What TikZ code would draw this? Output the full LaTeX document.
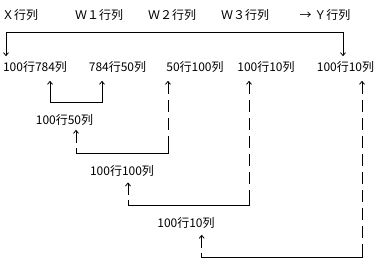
\documentclass[tikz,border=0pt]{standalone}
\usepackage{fontspec}
\newfontfamily\cjkfont{Noto Sans CJK SC}
\usetikzlibrary{arrows.meta,calc}
\begin{document}
\begin{tikzpicture}[x=1pt,y=-1pt,
  lbl/.style={font=\cjkfont\fontsize{12}{12}\selectfont, inner sep=0pt, anchor=center},
  tipup/.style={{Straight Barb[length=3pt,width=5pt]}-{Straight Barb[length=3pt,width=5pt]}},
  conn/.style={line width=0.8pt, tipup},
  hline/.style={line width=0.8pt},
  vline/.style={line width=0.8pt, dash pattern=on 12pt off 6pt, {Straight Barb[length=3pt,width=5pt]}-}]
\useasboundingbox[fill=white] (0,0) rectangle (382,266);
% header row
\node[lbl] (t1) at (20,15) {Ｘ行列};
\node[lbl] (t2) at (99,15) {Ｗ１行列};
\node[lbl] (t3) at (172,15) {Ｗ２行列};
\node[lbl] (t4) at (245,15) {Ｗ３行列};
\node[lbl] (t5) at (325,15) {→ Ｙ行列};
% sizes row
\node[lbl] (n1) at (35,67) {100行784列};
\node[lbl] (n2) at (117.5,67) {784行50列};
\node[lbl] (n3) at (195,67) {50行100列};
\node[lbl] (n4) at (266,67) {100行10列};
\node[lbl] (n5) at (345.5,67) {100行10列};
% results
\node[lbl] (m1) at (64.5,120) {100行50列};
\node[lbl] (m2) at (122,170.7) {100行100列};
\node[lbl] (m3) at (186,223) {100行10列};
% top bracket
\coordinate (a1) at (6,32.7);
\coordinate (a2) at (343,32.7);
\draw[conn, shorten <=5pt, shorten >=5pt] (n1.north -| a1) -- (a1) -- (a2) -- (n5.north -| a2);
% first product
\coordinate (b1) at (50,102.7);
\coordinate (b2) at (102,102.7);
\draw[conn, shorten <=8pt, shorten >=8pt] (n1.south -| b1) -- (b1) -- (b2) -- (n2.south -| b2);
% second product
\coordinate (c1) at (168,153.3);
\coordinate (c2) at (76,153.3);
\draw[vline, shorten <=8pt] (n3.south -| c1) -- (c1);
\draw[hline] ($(c1)+(0,-5)$) -- (c1) -- (c2) -- ++(0,-5);
\draw[vline, shorten <=4pt] (m1.south -| c2) -- (c2);
% third product
\coordinate (d1) at (249,205);
\coordinate (d2) at (128,205);
\draw[vline, shorten <=8pt] (n4.south -| d1) -- (d1);
\draw[hline] ($(d1)+(0,-5)$) -- (d1) -- (d2) -- ++(0,-5);
\draw[vline, shorten <=6pt] (m2.south -| d2) -- (d2);
% fourth product
\coordinate (e1) at (362,257.7);
\coordinate (e2) at (201.7,257.7);
\draw[vline, shorten <=8pt] (n5.south -| e1) -- (e1);
\draw[hline] ($(e1)+(0,-5)$) -- (e1) -- (e2) -- ++(0,-5);
\draw[vline, shorten <=6pt] (m3.south -| e2) -- (e2);
\end{tikzpicture}
\end{document}
